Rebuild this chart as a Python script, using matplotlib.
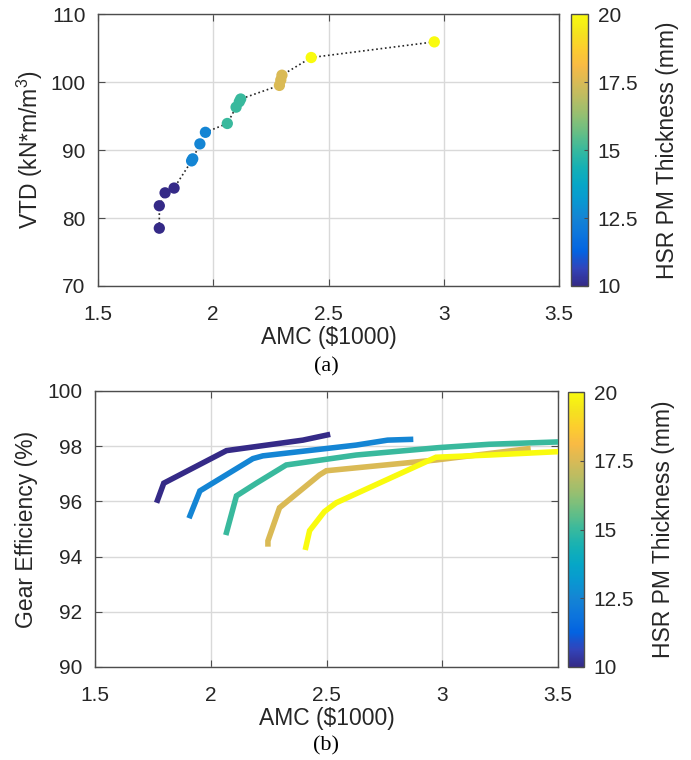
import numpy as np
import matplotlib
matplotlib.use("Agg")
import matplotlib.pyplot as plt
from matplotlib.colors import LinearSegmentedColormap, Normalize
from matplotlib.cm import ScalarMappable

plt.rcParams['font.family'] = ['Liberation Sans', 'DejaVu Sans']
plt.rcParams['mathtext.default'] = 'regular'

# ---- data (a): VTD vs AMC, colored by HSR PM thickness ----
amc_a = [1.766, 1.766, 1.791, 1.830, 1.906, 1.911, 1.942, 1.966,
         2.061, 2.099, 2.113, 2.119, 2.287, 2.293, 2.298, 2.425, 2.959]
vtd_a = [78.5, 81.8, 83.7, 84.4, 88.4, 88.7, 90.9, 92.6,
         93.9, 96.3, 97.1, 97.5, 99.5, 100.3, 101.0, 103.6, 105.9]
thk_a = [10, 10, 10, 10, 12.5, 12.5, 12.5, 12.5,
         15, 15, 15, 15, 17.5, 17.5, 17.5, 20, 20]

# ---- data (b): gear efficiency vs AMC, one curve per thickness ----
thk_b = [10, 12.5, 15, 17.5, 20]
amc_b = [
    [1.766, 1.797, 2.068, 2.398, 2.516],
    [1.906, 1.953, 2.182, 2.225, 2.628, 2.764, 2.875],
    [2.065, 2.111, 2.197, 2.326, 2.628, 2.987, 3.203, 3.52],
    [2.247, 2.247, 2.297, 2.470, 2.499, 2.973, 3.382],
    [2.408, 2.427, 2.491, 2.542, 2.973, 3.203, 3.52],
]
eff_b = [
    [95.95, 96.66, 97.84, 98.22, 98.43],
    [95.39, 96.38, 97.55, 97.65, 98.04, 98.22, 98.25],
    [94.78, 96.20, 96.66, 97.32, 97.68, 97.95, 98.07, 98.16],
    [94.36, 94.57, 95.77, 96.96, 97.11, 97.50, 97.92],
    [94.24, 94.94, 95.63, 95.95, 97.60, 97.68, 97.81],
]

# MATLAB parula (every 4th of the 64-entry table)
parula_rgb = [
    (0.2081, 0.1663, 0.5292), (0.1959, 0.2645, 0.7279), (0.0117, 0.3875, 0.8820),
    (0.0498, 0.4586, 0.8641), (0.0793, 0.5200, 0.8312), (0.0343, 0.5966, 0.8199),
    (0.0228, 0.6535, 0.7768), (0.0843, 0.6928, 0.7062), (0.2178, 0.7250, 0.6193),
    (0.3953, 0.7459, 0.5244), (0.5709, 0.7485, 0.4494), (0.7184, 0.7411, 0.3905),
    (0.8507, 0.7299, 0.3360), (0.9739, 0.7314, 0.2666), (0.9880, 0.8066, 0.1794),
    (0.9589, 0.8949, 0.1132), (0.9763, 0.9831, 0.0538),
]
parula = LinearSegmentedColormap.from_list("parula", parula_rgb)
norm = Normalize(10, 20)

W, H = 691, 760
fig = plt.figure(figsize=(W / 100, H / 100), dpi=100)

def px_axes(l, t, r, b):
    return fig.add_axes([l / W, (H - b) / H, (r - l) / W, (b - t) / H])

txt = '#262626'
tick_fs = 15
lab_fs = 16.5

def style(ax):
    for s in ax.spines.values():
        s.set_color('0.3')
        s.set_linewidth(1.0)
    ax.tick_params(direction='in', top=True, right=True, length=5, width=0.8,
                   color='0.3', labelcolor=txt, labelsize=tick_fs)
    ax.tick_params(axis='x', pad=14)
    ax.tick_params(axis='y', pad=9)
    ax.grid(True, color='0.85', linewidth=1.0)
    ax.set_axisbelow(True)

def add_cbar(l, t, r, b):
    cax = px_axes(l, t, r, b)
    cb = fig.colorbar(ScalarMappable(norm=norm, cmap=parula), cax=cax)
    cb.set_ticks([10, 12.5, 15, 17.5, 20])
    cb.set_ticklabels(['10', '12.5', '15', '17.5', '20'])
    cb.outline.set_edgecolor('0.3')
    cb.outline.set_linewidth(1.0)
    cax.tick_params(direction='in', length=3, color='0.3', labelcolor=txt,
                    labelsize=tick_fs, pad=7)
    cb.set_label('HSR PM Thickness (mm)', fontsize=lab_fs, color=txt, labelpad=13)
    return cb

# ---------- (a) ----------
ax1 = px_axes(98, 14, 559, 286)
ax1.plot(amc_a, vtd_a, linestyle=':', color='0.15', linewidth=1.2, zorder=2)
ax1.scatter(amc_a, vtd_a, c=thk_a, cmap=parula, norm=norm, s=66,
            edgecolors='none', zorder=3)
ax1.set_xlim(1.5, 3.5)
ax1.set_ylim(70, 110)
ax1.set_xticks([1.5, 2, 2.5, 3, 3.5])
ax1.set_xticklabels(['1.5', '2', '2.5', '3', '3.5'])
ax1.set_yticks([70, 80, 90, 100, 110])
style(ax1)
ax1.set_xlabel('AMC ($1000)', fontsize=lab_fs, color=txt, labelpad=1)
ax1.set_ylabel('VTD (kN*m/m$^{3}$)', fontsize=lab_fs, color=txt, labelpad=4)
add_cbar(571, 14, 588, 286)
fig.text(326 / W, 1 - 367 / H, '(a)', ha='center', va='center',
         fontsize=16, family='Liberation Serif', color='black')

# ---------- (b) ----------
ax2 = px_axes(95, 391, 558, 667)
for t, xs, ys in zip(thk_b, amc_b, eff_b):
    ax2.plot(xs, ys, color=parula(norm(t)), linewidth=4.0,
             solid_capstyle='butt', solid_joinstyle='miter', zorder=3)
ax2.set_xlim(1.5, 3.5)
ax2.set_ylim(90, 100)
ax2.set_xticks([1.5, 2, 2.5, 3, 3.5])
ax2.set_xticklabels(['1.5', '2', '2.5', '3', '3.5'])
ax2.set_yticks([90, 92, 94, 96, 98, 100])
style(ax2)
ax2.set_xlabel('AMC ($1000)', fontsize=lab_fs, color=txt, labelpad=1)
ax2.set_ylabel('Gear Efficiency (%)', fontsize=lab_fs, color=txt, labelpad=7)
add_cbar(568, 392, 584, 667)
fig.text(326 / W, 1 - 746 / H, '(b)', ha='center', va='center',
         fontsize=16, family='Liberation Serif', color='black')

fig.savefig('out.png', dpi=100)
